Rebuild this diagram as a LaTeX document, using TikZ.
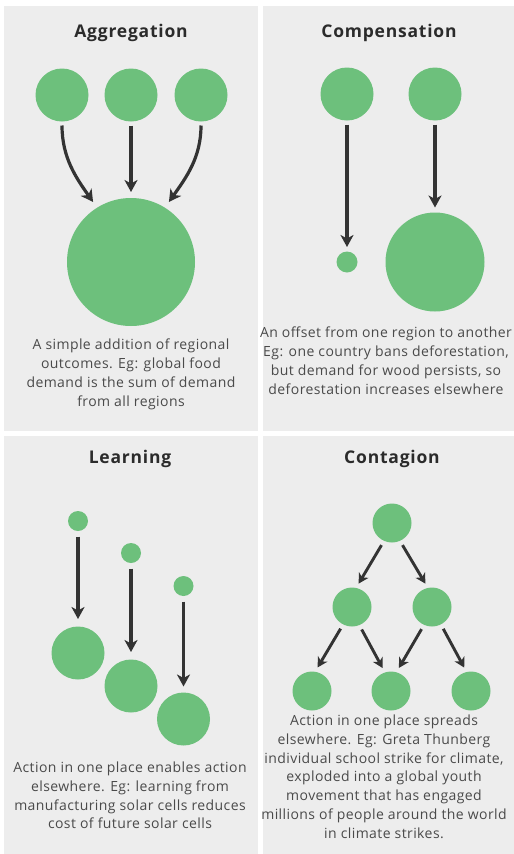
\documentclass[tikz,border=0pt]{standalone}
\usepackage{fontspec}
\setmainfont{Open Sans}
\newfontfamily\bodyfont[LetterSpace=3]{Open Sans}
\newfontfamily\titlefont[LetterSpace=4.5]{Open Sans}
\usetikzlibrary{arrows.meta}
\definecolor{panelgray}{HTML}{EDEDED}
\definecolor{dotgreen}{HTML}{6DC07C}
\definecolor{arrowgray}{HTML}{333333}
\definecolor{bodytext}{HTML}{4A4A4A}
\definecolor{titletext}{HTML}{2B2B2B}
\begin{document}
\begin{tikzpicture}[x=1pt,y=-1pt,
  dot/.style={circle,fill=dotgreen,inner sep=0pt,outer sep=0pt,minimum size=#1},
  flow/.style={draw=arrowgray,line width=3.2pt,-{Stealth[length=12pt,width=13pt,inset=3.5pt]}},
  spread/.style={draw=arrowgray,line width=2.9pt,-{Stealth[length=10pt,width=11pt,inset=3pt]}},
  title/.style={font=\titlefont\bfseries\fontsize{17.5}{20}\selectfont,text=titletext,inner sep=0pt,anchor=base},
  body/.style={font=\bodyfont\fontsize{14}{18.7}\selectfont,text=bodytext,align=center,inner sep=0pt,anchor=north}]
\fill[white] (0,0) rectangle (514,854);
\useasboundingbox (0,0) rectangle (514,854);
\fill[panelgray] (4,6) rectangle (258,431);
\fill[panelgray] (263,6) rectangle (514,431);
\fill[panelgray] (4,436) rectangle (258,854);
\fill[panelgray] (263,436) rectangle (514,854);

% Aggregation
\node[title] (t1) at (131,37) {Aggregation};
\node[dot=53pt] (a1) at (62,95) {};
\node[dot=53pt] (a2) at (131,95) {};
\node[dot=53pt] (a3) at (201,95) {};
\node[dot=128pt] (ab) at (131,262) {};
\draw[flow,shorten <=4pt,shorten >=7pt] (a1.south) to[out=-90,in=125] (ab.122);
\draw[flow,shorten <=4pt,shorten >=6pt] (a2.south) -- (ab.north);
\draw[flow,shorten <=4pt,shorten >=7pt] (a3.south) to[out=-90,in=55] (ab.58);
\node[body] (d1) at (131,339) {A simple addition of regional\\outcomes. Eg: global food\\demand is the sum of demand\\from all regions};

% Compensation
\node[title] (t2) at (389,37) {Compensation};
\node[dot=53pt] (c1) at (347,94) {};
\node[dot=53pt] (c2) at (435,94) {};
\node[dot=21pt] (cs) at (347,262) {};
\node[dot=99pt] (cb) at (435,262) {};
\draw[flow,shorten <=4pt,shorten >=4.5pt] (c1.south) -- (cs.north);
\draw[flow,shorten <=4pt,shorten >=5pt] (c2.south) -- (cb.north);
\node[body] (d2) at (386,327) {An offset from one region to another\\Eg: one country bans deforestation,\\but demand for wood persists, so\\deforestation increases elsewhere};

% Learning
\node[title] (t3) at (130,463) {Learning};
\node[dot=20pt] (l1) at (78,521) {};
\node[dot=20pt] (l2) at (131,553) {};
\node[dot=20pt] (l3) at (183.5,586) {};
\node[dot=53pt] (L1) at (78,653) {};
\node[dot=53pt] (L2) at (131,686) {};
\node[dot=53pt] (L3) at (183.5,719) {};
\draw[flow,shorten <=5.5pt,shorten >=7.5pt] (l1.south) -- (L1.north);
\draw[flow,shorten <=5.5pt,shorten >=7.5pt] (l2.south) -- (L2.north);
\draw[flow,shorten <=5.5pt,shorten >=6pt] (l3.south) -- (L3.north);
\node[body] (d3) at (130,762) {Action in one place enables action\\elsewhere. Eg: learning from\\manufacturing solar cells reduces\\cost of future solar cells};

% Contagion
\node[title] (t4) at (392,463) {Contagion};
\node[dot=39pt] (g1) at (392,523) {};
\node[dot=39pt] (g2) at (352,607) {};
\node[dot=39pt] (g3) at (432,607) {};
\node[dot=39pt] (g4) at (312,691) {};
\node[dot=39pt] (g5) at (391,691) {};
\node[dot=39pt] (g6) at (471,691) {};
\draw[spread,shorten <=5pt,shorten >=5pt] (g1.-114) -- (g2.78);
\draw[spread,shorten <=5pt,shorten >=5pt] (g1.-66) -- (g3.102);
\draw[spread,shorten <=5pt,shorten >=5pt] (g2.-117) -- (g4.81);
\draw[spread,shorten <=5pt,shorten >=5pt] (g2.-68) -- (g5.108);
\draw[spread,shorten <=5pt,shorten >=5pt] (g3.-114) -- (g5.74);
\draw[spread,shorten <=5pt,shorten >=5pt] (g3.-63) -- (g6.103);
\node[body] (d4) at (384,715) {Action in one place spreads\\elsewhere. Eg: Greta Thunberg\\individual school strike for climate,\\exploded into a global youth\\movement that has engaged\\millions of people around the world\\in climate strikes.};
\end{tikzpicture}
\end{document}
